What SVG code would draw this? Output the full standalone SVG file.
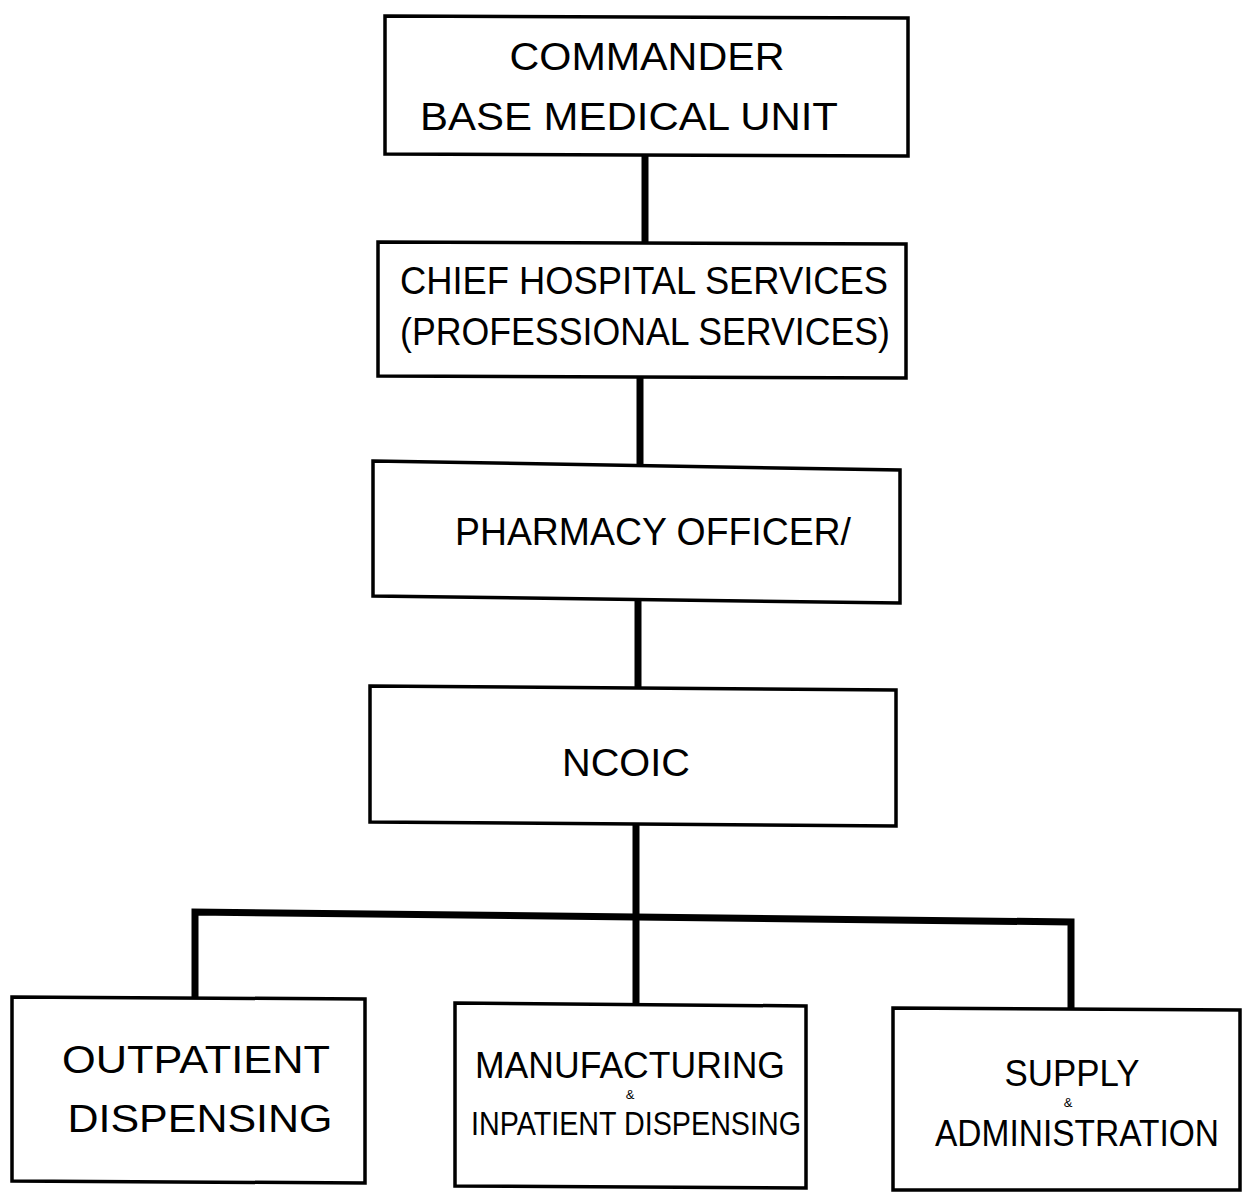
<svg xmlns="http://www.w3.org/2000/svg" width="1251" height="1202" viewBox="0 0 1251 1202">
<style>
.box{fill:#fff;stroke:#000;stroke-width:3.5}
.ln{stroke:#000;stroke-width:7;fill:none;stroke-linecap:square}
text{font-family:"Liberation Sans","DejaVu Sans",sans-serif;fill:#000;font-size:38px}
.amp{font-size:13px}
</style>
<rect width="1251" height="1202" fill="#fff"/>
<g id="connectors">
<line class="ln" x1="645" y1="157" x2="645" y2="241"/>
<line class="ln" x1="640" y1="379" x2="640" y2="462"/>
<line class="ln" x1="638" y1="604" x2="638" y2="686"/>
<line class="ln" x1="636" y1="827" x2="636" y2="1003"/>
<polyline class="ln" points="195,997 195,912 1071,922 1071,1008"/>
</g>
<g id="n1"><polygon class="box" points="385,16 908,18 908,156 385,154"/>
<text x="647" y="70" text-anchor="middle" textLength="275" lengthAdjust="spacingAndGlyphs">COMMANDER</text>
<text x="629" y="130" text-anchor="middle" textLength="418" lengthAdjust="spacingAndGlyphs">BASE MEDICAL  UNIT</text></g>
<g id="n2"><polygon class="box" points="378,242 906,244 906,378 378,376"/>
<text x="644" y="294" text-anchor="middle" textLength="488" lengthAdjust="spacingAndGlyphs">CHIEF  HOSPITAL  SERVICES</text>
<text x="645" y="345" text-anchor="middle" textLength="490" lengthAdjust="spacingAndGlyphs">(PROFESSIONAL  SERVICES)</text></g>
<g id="n3"><polygon class="box" points="373,461 900,470 900,603 373,596"/>
<text x="653" y="545" text-anchor="middle" textLength="396" lengthAdjust="spacingAndGlyphs">PHARMACY OFFICER/</text></g>
<g id="n4"><polygon class="box" points="370,686 896,690 896,826 370,822"/>
<text x="626" y="776" text-anchor="middle" textLength="128" lengthAdjust="spacingAndGlyphs">NCOIC</text></g>
<g id="n5"><polygon class="box" points="12,997 365,999 365,1183 12,1181"/>
<text x="196" y="1073" text-anchor="middle" textLength="268" lengthAdjust="spacingAndGlyphs">OUTPATIENT</text>
<text x="200" y="1132" text-anchor="middle" textLength="265" lengthAdjust="spacingAndGlyphs">DISPENSING</text></g>
<g id="n6"><polygon class="box" points="455,1003 806,1006 806,1188 455,1186"/>
<text x="630" y="1078" text-anchor="middle" textLength="310" lengthAdjust="spacingAndGlyphs" style="font-size:36px">MANUFACTURING</text>
<text x="630" y="1099" text-anchor="middle" class="amp">&amp;</text>
<text x="636" y="1135" text-anchor="middle" textLength="330" lengthAdjust="spacingAndGlyphs" style="font-size:34px">INPATIENT DISPENSING</text></g>
<g id="n7"><polygon class="box" points="893,1008 1240,1010 1240,1190 893,1190"/>
<text x="1072" y="1086" text-anchor="middle" textLength="135" lengthAdjust="spacingAndGlyphs" style="font-size:36px">SUPPLY</text>
<text x="1068" y="1107" text-anchor="middle" class="amp">&amp;</text>
<text x="1077" y="1146" text-anchor="middle" textLength="284" lengthAdjust="spacingAndGlyphs" style="font-size:36px">ADMINISTRATION</text></g>
</svg>
